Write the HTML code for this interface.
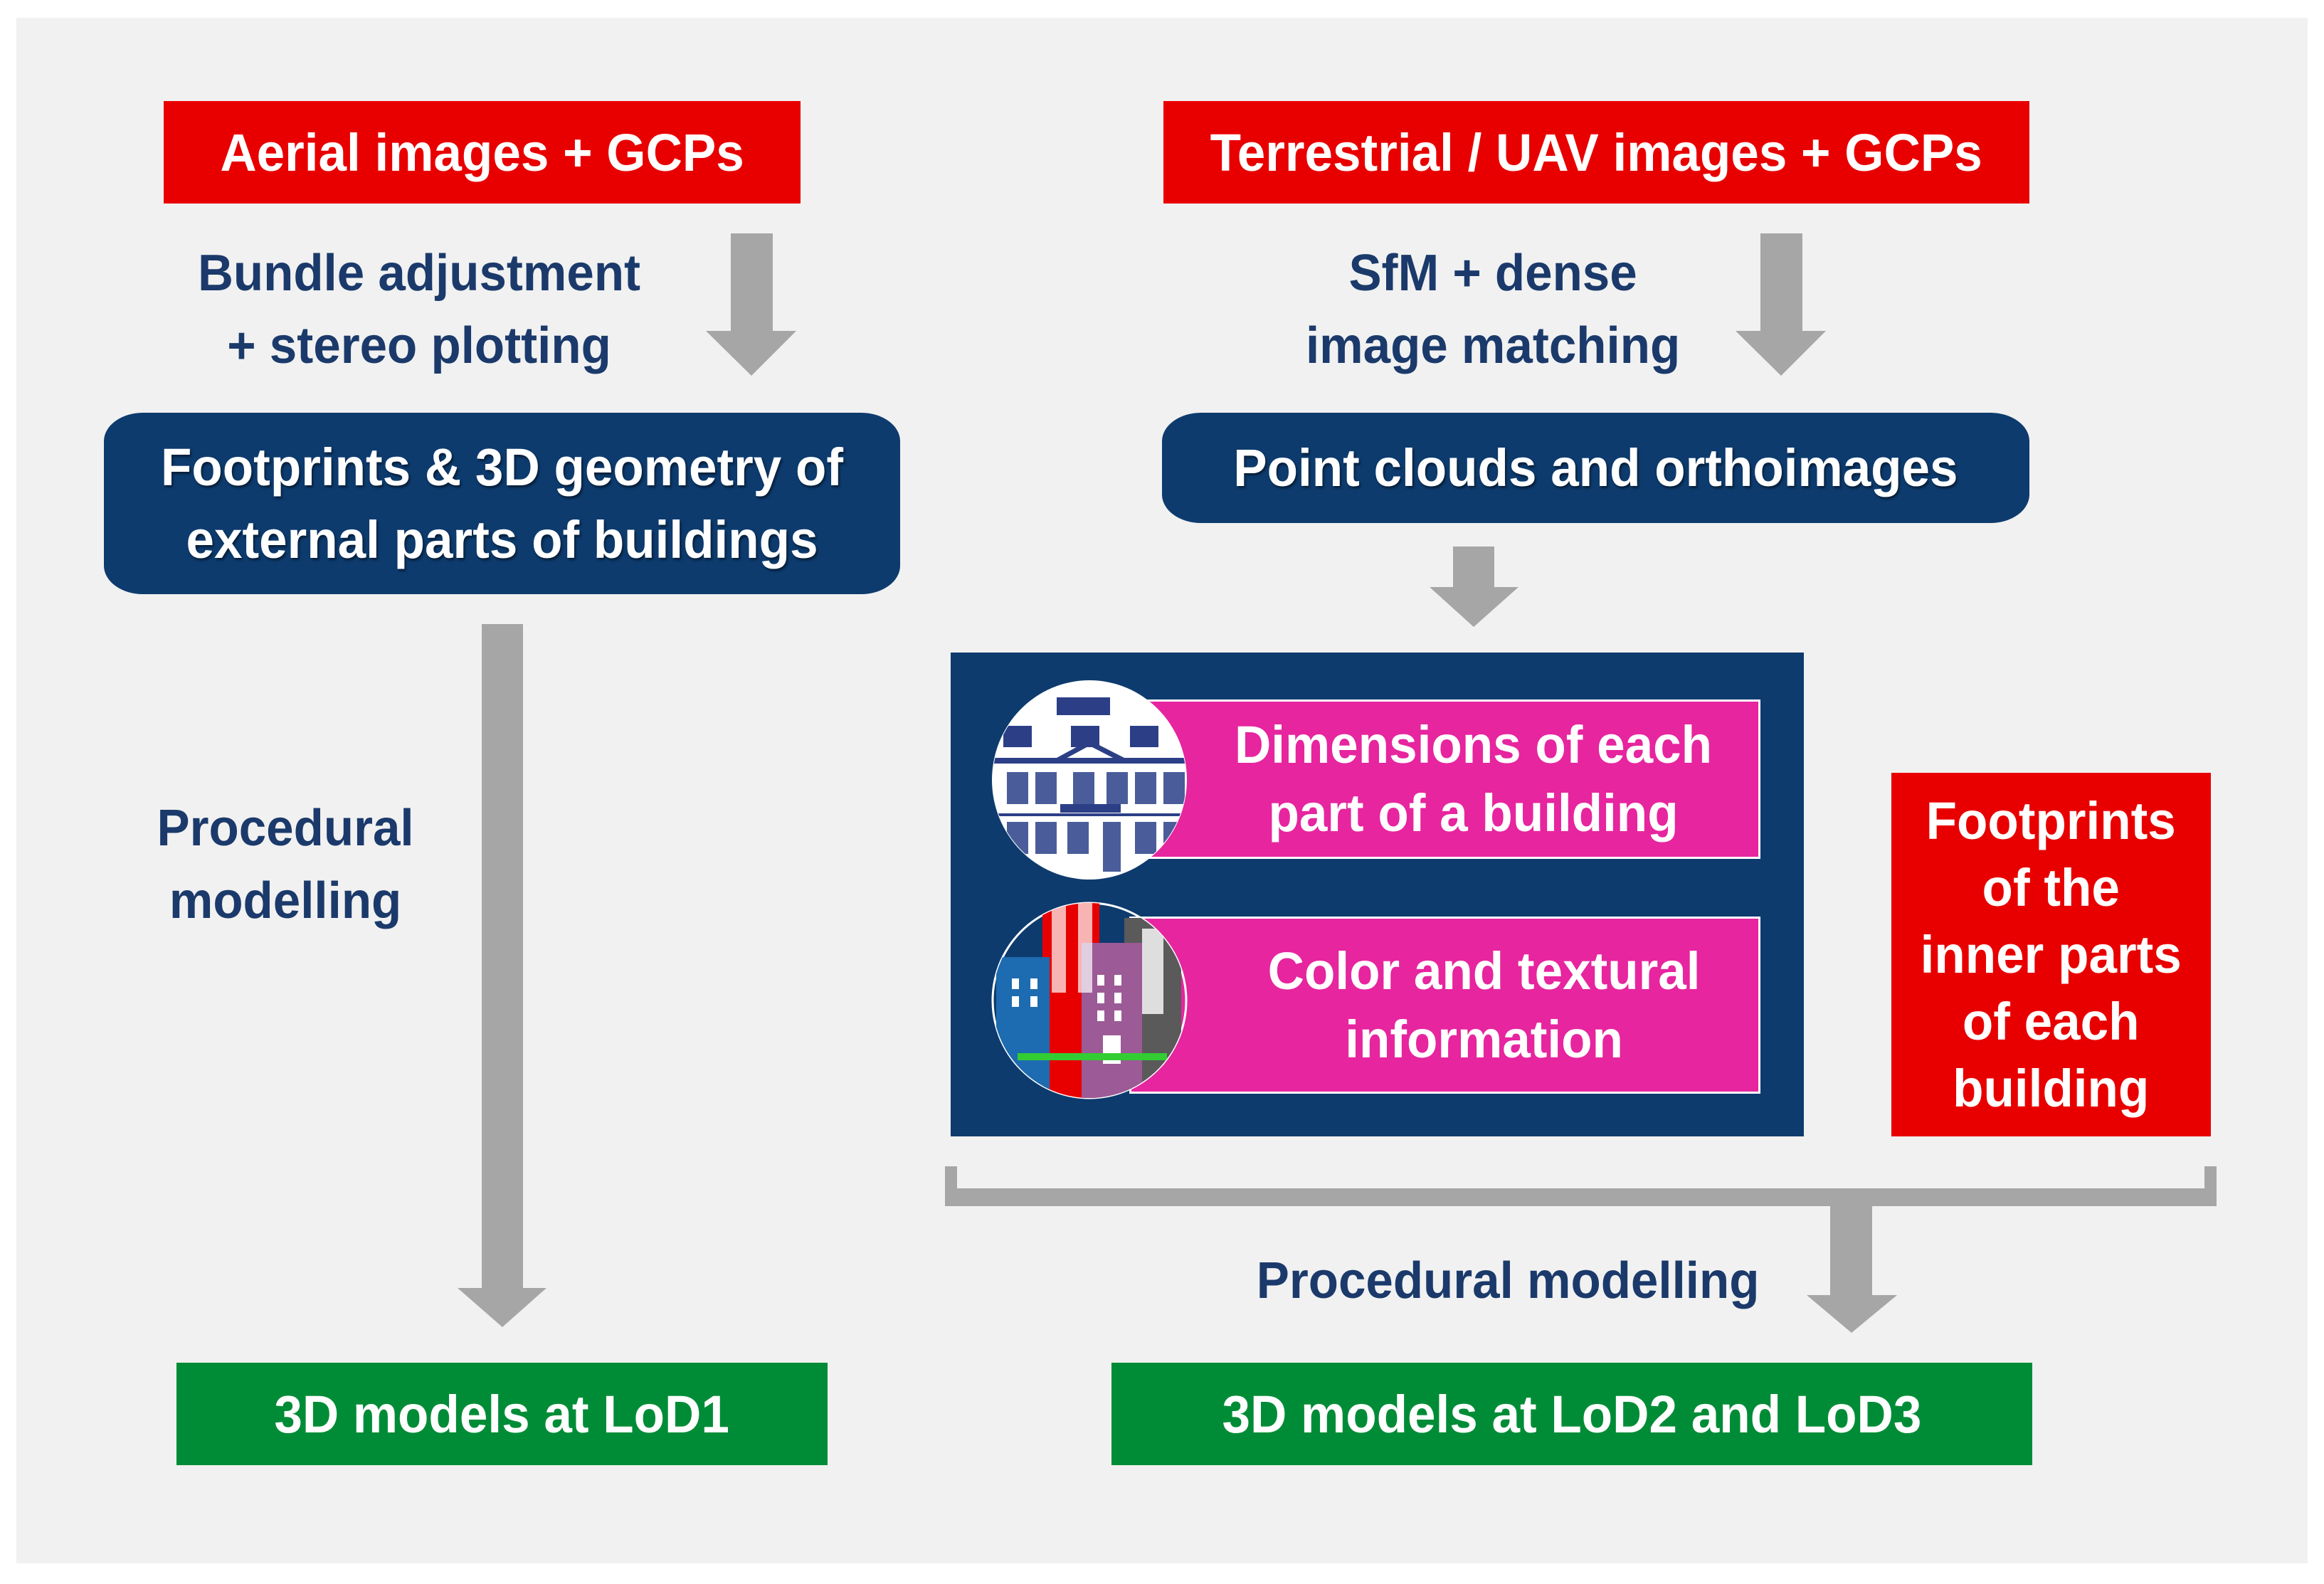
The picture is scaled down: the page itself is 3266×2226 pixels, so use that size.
<!DOCTYPE html>
<html><head><meta charset="utf-8"><style>
body{margin:0;width:3266px;height:2226px;background:#fff;position:relative;overflow:hidden;font-family:"Liberation Sans",sans-serif;font-weight:bold}
.a{position:absolute;box-sizing:border-box}
.c{display:flex;align-items:center;justify-content:center;text-align:center}
.t{display:inline-block;transform:scaleX(0.96);white-space:nowrap}
.w{color:#fff}
.n{color:#1b3a6b}
</style></head><body>
<div class="a" style="left:23px;top:25px;width:3220px;height:2172px;background:#f1f1f1"></div>

<div class="a c w" style="left:230px;top:142px;width:895px;height:144px;background:#e80000;font-size:74px"><span class="t">Aerial images + GCPs</span></div>
<div class="a c w" style="left:1635px;top:142px;width:1217px;height:144px;background:#e80000;font-size:74px"><span class="t">Terrestrial / UAV images + GCPs</span></div>

<div class="a c n" style="left:189px;top:330px;width:800px;height:210px;font-size:72px;line-height:102px"><span class="t">Bundle adjustment<br>+ stereo plotting</span></div>
<div class="a c n" style="left:1698px;top:330px;width:800px;height:210px;font-size:72px;line-height:102px"><span class="t">SfM + dense<br>image matching</span></div>

<svg class="a" style="left:0;top:0" width="3266" height="2226">
<g fill="#a6a6a6">
<polygon points="1027,328 1086,328 1086,465 1119,465 1056,528 992,465 1027,465"/>
<polygon points="2474,328 2533,328 2533,465 2566,465 2503,528 2439,465 2474,465"/>
<polygon points="2042,768 2100,768 2100,825 2134,825 2071,881 2009,825 2042,825"/>
<polygon points="677,877 735,877 735,1810 768,1810 706,1865 643,1810 677,1810"/>
<polygon points="2572,1690 2631,1690 2631,1820 2666,1820 2602,1873 2539,1820 2572,1820"/>
<rect x="1328" y="1670" width="1787" height="25"/>
<rect x="1328" y="1639" width="17" height="56"/>
<rect x="3098" y="1639" width="17" height="56"/>
</g>
</svg>

<div class="a c w" style="left:146px;top:580px;width:1119px;height:255px;background:#0d3b6e;border-radius:55px/40px;font-size:74px;line-height:102px;text-shadow:2px 3px 3px rgba(0,0,0,.5)"><span class="t">Footprints &amp; 3D geometry of<br>external parts of buildings</span></div>
<div class="a c w" style="left:1633px;top:580px;width:1219px;height:155px;background:#0d3b6e;border-radius:55px/40px;font-size:74px;text-shadow:2px 3px 3px rgba(0,0,0,.5)"><span class="t">Point clouds and orthoimages</span></div>

<div class="a" style="left:1336px;top:917px;width:1199px;height:680px;background:#0d3b6e"></div>
<div class="a c w" style="left:1608px;top:983px;width:866px;height:224px;background:#e6259f;border:3px solid #fff;font-size:74px;line-height:96px;padding-left:60px"><span class="t">Dimensions of each<br>part of a building</span></div>
<div class="a c w" style="left:1587px;top:1288px;width:887px;height:249px;background:#e6259f;border:3px solid #fff;font-size:74px;line-height:96px;padding-left:110px"><span class="t">Color and textural<br>information</span></div>

<svg class="a" style="left:1390px;top:950px" width="290" height="600">
<defs><clipPath id="c1"><ellipse cx="141" cy="146" rx="136" ry="139"/></clipPath><clipPath id="c2"><ellipse cx="141" cy="456" rx="136" ry="137"/></clipPath></defs>
<ellipse cx="141" cy="146" rx="137" ry="140" fill="#fff"/>
<g clip-path="url(#c1)" fill="#2c3f86">
<rect x="95" y="30" width="75" height="25"/>
<rect x="20" y="70" width="40" height="30"/><rect x="115" y="70" width="40" height="30"/><rect x="198" y="70" width="40" height="30"/>
<rect x="0" y="115" width="290" height="8"/>
<polygon points="95,115 141,90 190,115 180,118 141,98 104,118"/>
<g fill="#4a5d9a">
<rect x="25" y="135" width="30" height="45"/><rect x="65" y="135" width="30" height="45"/><rect x="118" y="135" width="30" height="45"/><rect x="165" y="135" width="30" height="45"/><rect x="205" y="135" width="30" height="45"/><rect x="245" y="135" width="30" height="45"/>
<rect x="25" y="205" width="30" height="45"/><rect x="65" y="205" width="30" height="45"/><rect x="110" y="205" width="30" height="45"/><rect x="160" y="205" width="25" height="70"/><rect x="205" y="205" width="30" height="45"/><rect x="245" y="205" width="30" height="45"/>
</g>
<rect x="100" y="180" width="85" height="12"/>
<rect x="0" y="193" width="290" height="4"/>
</g>
<ellipse cx="141" cy="456" rx="136" ry="137" fill="none" stroke="#fff" stroke-width="3"/>
<g clip-path="url(#c2)">
<rect x="75" y="275" width="80" height="330" fill="#e80000"/>
<rect x="10" y="395" width="75" height="200" fill="#1d6bb0"/>
<rect x="190" y="340" width="80" height="260" fill="#5a5a5a"/>
<rect x="130" y="375" width="85" height="230" fill="#9c5a96"/>
<g fill="#fff"><rect x="32" y="425" width="10" height="15"/><rect x="58" y="425" width="10" height="15"/><rect x="32" y="450" width="10" height="15"/><rect x="58" y="450" width="10" height="15"/><rect x="152" y="420" width="10" height="15"/><rect x="176" y="420" width="10" height="15"/><rect x="152" y="445" width="10" height="15"/><rect x="176" y="445" width="10" height="15"/><rect x="152" y="470" width="10" height="15"/><rect x="176" y="470" width="10" height="15"/><rect x="160" y="505" width="25" height="40"/>
<rect x="215" y="355" width="30" height="120" opacity=".8"/><rect x="88" y="295" width="20" height="150" opacity=".7"/><rect x="125" y="295" width="20" height="150" opacity=".7"/></g>
<rect x="40" y="530" width="210" height="10" fill="#3c3"/>
</g>
</svg>

<div class="a c w" style="left:2658px;top:1086px;width:449px;height:511px;background:#e80000;font-size:74px;line-height:94px"><span class="t">Footprints<br>of the<br>inner parts<br>of each<br>building</span></div>

<div class="a c n" style="left:101px;top:1110px;width:600px;height:210px;font-size:72px;line-height:102px"><span class="t">Procedural<br>modelling</span></div>
<div class="a c n" style="left:1719px;top:1750px;width:800px;height:100px;font-size:72px"><span class="t">Procedural modelling</span></div>

<div class="a c w" style="left:248px;top:1915px;width:915px;height:144px;background:#008c36;font-size:74px"><span class="t">3D models at LoD1</span></div>
<div class="a c w" style="left:1562px;top:1915px;width:1294px;height:144px;background:#008c36;font-size:74px"><span class="t">3D models at LoD2 and LoD3</span></div>
</body></html>
